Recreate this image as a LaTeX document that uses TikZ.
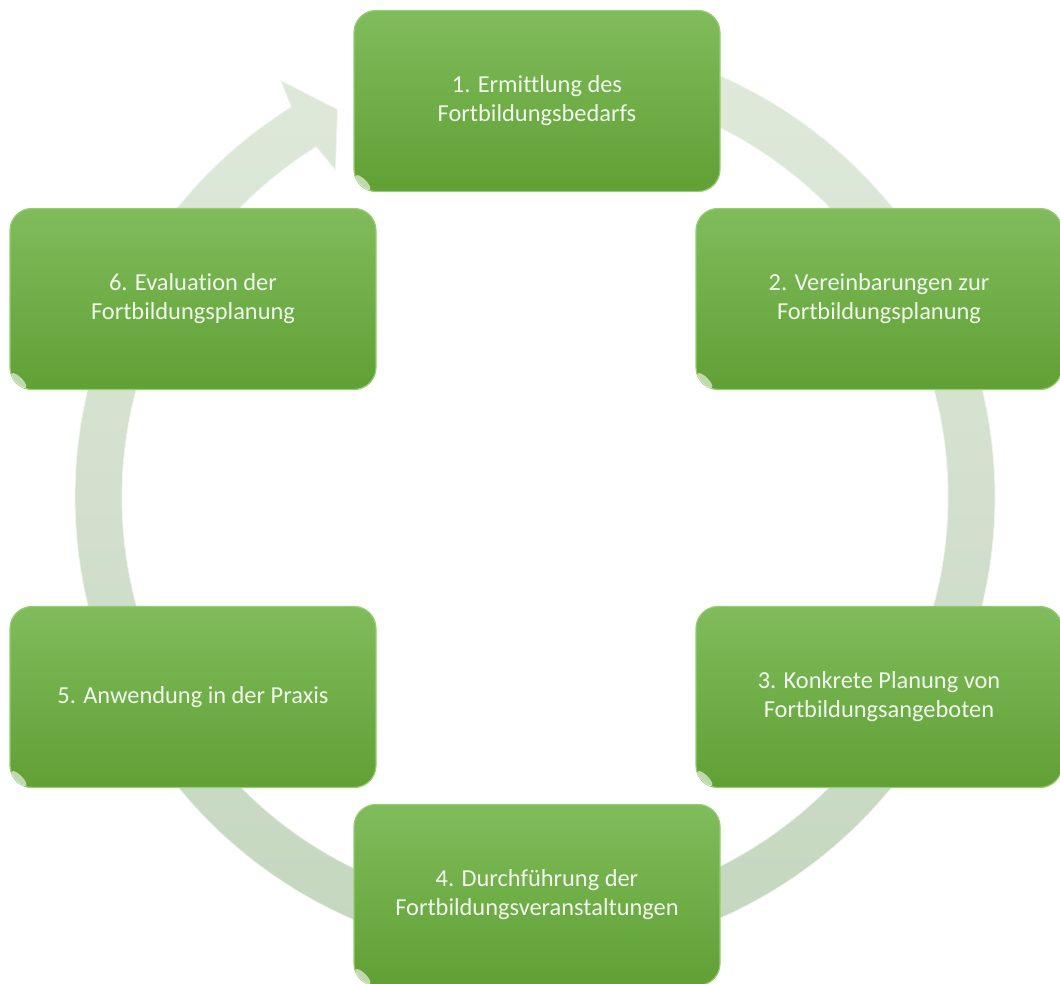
\documentclass[tikz,border=0pt]{standalone}
\usepackage{fontspec}
\setmainfont{Carlito}[Ligatures=NoCommon]
\definecolor{boxtop}{RGB}{128,188,92}
\definecolor{boxbot}{RGB}{96,160,52}
\definecolor{boxedge}{RGB}{150,205,112}
\definecolor{ringtop}{RGB}{224,234,220}
\definecolor{ringbot}{RGB}{196,214,190}
\definecolor{steptext}{RGB}{242,248,238}
\begin{document}
\begin{tikzpicture}[x=1pt,y=1pt,
  stepbox/.style={rounded corners=22pt, minimum width=366pt, minimum height=181pt,
    top color=boxtop, bottom color=boxbot, draw=boxedge, line width=1.2pt,
    text=steptext, font=\fontsize{24.4}{29}\selectfont, align=center, inner sep=0pt},
  glint/.style={fill=white, opacity=0.6},
  ringstyle/.style={top color=ringtop, bottom color=ringbot, draw=white!55!ringtop, line width=0.8pt}]
\useasboundingbox (0,0) rectangle (1060,983);
\coordinate (c) at (535,486);
% cycle ring with arrow head
\path[ringstyle]
  ([shift={(95:460)}]c) arc[start angle=95, end angle=-238, radius=460]
  -- ([shift={(-238.6:488)}]c)
  -- ([shift={(-243:435)}]c)
  -- ([shift={(-238.6:383)}]c)
  -- ([shift={(-238:413)}]c)
  arc[start angle=-238, end angle=95, radius=413] -- cycle;
% steps
\node[stepbox] (s1) at (537,882) {1. Ermittlung des\\Fortbildungsbedarfs};
\node[stepbox] (s2) at (879,684) {2. Vereinbarungen zur\\Fortbildungsplanung};
\node[stepbox] (s3) at (879,286) {3. Konkrete Planung von\\Fortbildungsangeboten};
\node[stepbox] (s4) at (537,88) {4. Durchführung der\\Fortbildungsveranstaltungen};
\node[stepbox] (s5) at (193,286) {5. Anwendung in der Praxis};
\node[stepbox] (s6) at (193,684) {6. Evaluation der\\Fortbildungsplanung};
% glossy glints at the lower left corners
\foreach \s in {s1,s2,s3,s4,s5,s6}{
  \path[glint] ([shift={(9.5,9.5)}]\s.south west) ellipse[x radius=10, y radius=3.5, rotate=-45];
}
\end{tikzpicture}
\end{document}
